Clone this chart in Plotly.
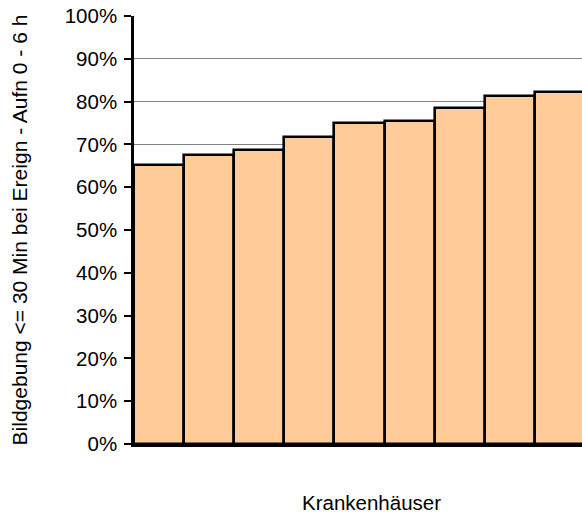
import plotly.graph_objects as go

# Anteil Bildgebung <= 30 Min je Krankenhaus (aufsteigend sortiert)
hospitals = list(range(9))
shares = [0.651, 0.675, 0.688, 0.717, 0.749, 0.754, 0.785, 0.813, 0.823]
y_ticks = [i / 10 for i in range(11)]
y_tick_labels = [f"{i * 10}%" for i in range(11)]

font_family = "Liberation Sans, Arial, sans-serif"

fig = go.Figure(
    go.Bar(
        x=hospitals,
        y=shares,
        width=1.0,
        marker=dict(color="#FFCC99", line=dict(color="black", width=2.6)),
        hoverinfo="y",
    )
)

fig.update_layout(
    width=582,
    height=515,
    margin=dict(l=134, r=0, t=16, b=71),
    paper_bgcolor="white",
    plot_bgcolor="white",
    bargap=0,
    showlegend=False,
    font=dict(family=font_family, size=20.5, color="black"),
    annotations=[
        dict(
            text="Krankenhäuser",
            xref="paper", yref="paper",
            x=0.531, y=0, yshift=-58,
            xanchor="center", yanchor="middle",
            showarrow=False,
            font=dict(family=font_family, size=20.5, color="black"),
        )
    ],
)

fig.update_xaxes(
    range=[-0.5, 8.44],
    showticklabels=False,
    ticks="",
    showgrid=False,
    zeroline=False,
    showline=True,
    linecolor="black",
    linewidth=2.5,
)

fig.update_yaxes(
    range=[0, 1.0],
    tickvals=y_ticks,
    ticktext=y_tick_labels,
    ticks="outside",
    ticklen=7,
    tickwidth=1.5,
    tickcolor="black",
    ticklabelstandoff=3,
    showgrid=True,
    gridcolor="#808080",
    gridwidth=1,
    zeroline=False,
    showline=True,
    linecolor="black",
    linewidth=2.5,
    title=dict(
        text="Bildgebung <= 30 Min bei Ereign - Aufn 0 - 6 h",
        font=dict(family=font_family, size=21, color="black"),
        standoff=32,
    ),
)

fig.write_html("out.html")
